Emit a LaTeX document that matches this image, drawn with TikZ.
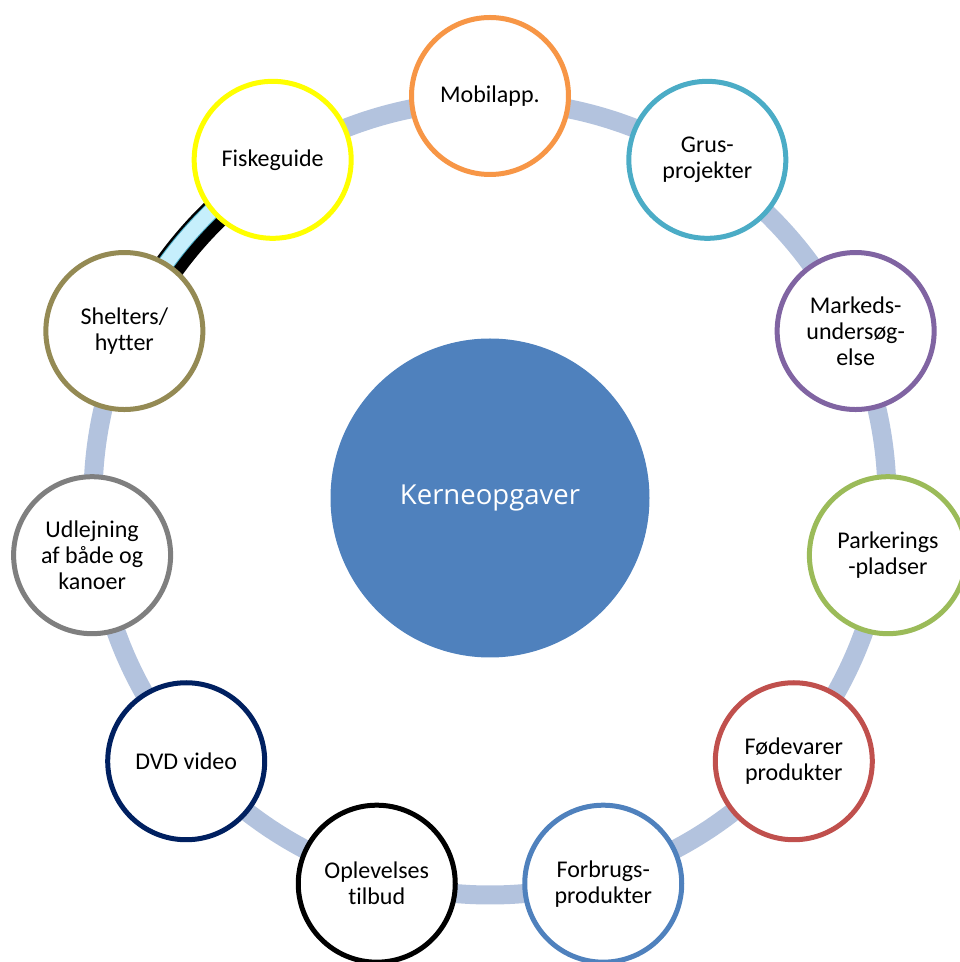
\documentclass[tikz,border=0pt]{standalone}
\usepackage{fontspec}
\setmainfont[Ligatures={NoCommon}]{Carlito}
\newfontfamily\centerfont{Open Sans}
\definecolor{ringC}{RGB}{179,195,222}
\definecolor{cyanC}{RGB}{198,239,252}
\definecolor{tealC}{RGB}{75,172,198}
\definecolor{orangeC}{RGB}{247,150,70}
\definecolor{purpleC}{RGB}{128,100,162}
\definecolor{greenC}{RGB}{155,187,89}
\definecolor{redC}{RGB}{192,80,77}
\definecolor{blueC}{RGB}{79,129,189}
\definecolor{navyC}{RGB}{0,32,96}
\definecolor{grayC}{RGB}{127,127,127}
\definecolor{oliveC}{RGB}{148,138,84}
\definecolor{yellowC}{RGB}{255,255,0}
\tikzset{
  ringline/.style={draw=ringC, line width=19pt},
  item/.style={circle, draw=#1, line width=5pt, fill=white, minimum size=157pt,
    inner sep=0pt, align=center, text=black,
    font=\fontsize{24}{26}\selectfont},
  core/.style={circle, fill=blueC, minimum size=319pt, inner sep=0pt,
    text=white, font=\centerfont\fontsize{27.5}{32}\selectfont}
}
\begin{document}
\begin{tikzpicture}[x=1pt,y=1pt]
\useasboundingbox (0,0) rectangle (960,962);
\clip (0,0) rectangle (960,962);
\coordinate (C) at (490,464);
% ring
\draw[ringline] (C) circle (397pt);
% highlighted segment
\draw[black, line width=31pt] (C) ++(124:395.5pt) arc (124:154:395.5pt);
\draw[tealC, line width=17pt] (C) ++(124:400pt) arc (124:154:400pt);
\draw[cyanC, line width=15pt] (C) ++(124:400pt) arc (124:154:400pt);
% centre
\node[core] (core) at (C) {Kerneopgaver};
% ring items
\path (C) ++(90:402pt) node[item=orangeC] (mob) {Mobilapp.};
\path (C) ++(57.273:402pt) node[item=tealC] (grus) {Grus-\\projekter};
\path (C) ++(24.545:402pt) node[item=purpleC] (mark) {Markeds-\\unders\o g-\\else};
\path (C) ++(-8.182:402pt) node[item=greenC] (park) {Parkerings\\-pladser};
\path (C) ++(-40.909:402pt) node[item=redC] (fode) {F\o devarer\\produkter};
\path (C) ++(-73.636:402pt) node[item=blueC] (forb) {Forbrugs-\\produkter};
\path (C) ++(-106.364:402pt) node[item=black] (ople) {Oplevelses\\tilbud};
\path (C) ++(-139.091:402pt) node[item=navyC] (dvd) {DVD video};
\path (C) ++(-171.818:402pt) node[item=grayC] (udl) {Udlejning\\af både og\\kanoer};
\path (C) ++(155.455:402pt) node[item=oliveC] (shel) {Shelters/\\hytter};
\path (C) ++(122.727:402pt) node[item=yellowC] (fisk) {Fiskeguide};
\end{tikzpicture}
\end{document}
